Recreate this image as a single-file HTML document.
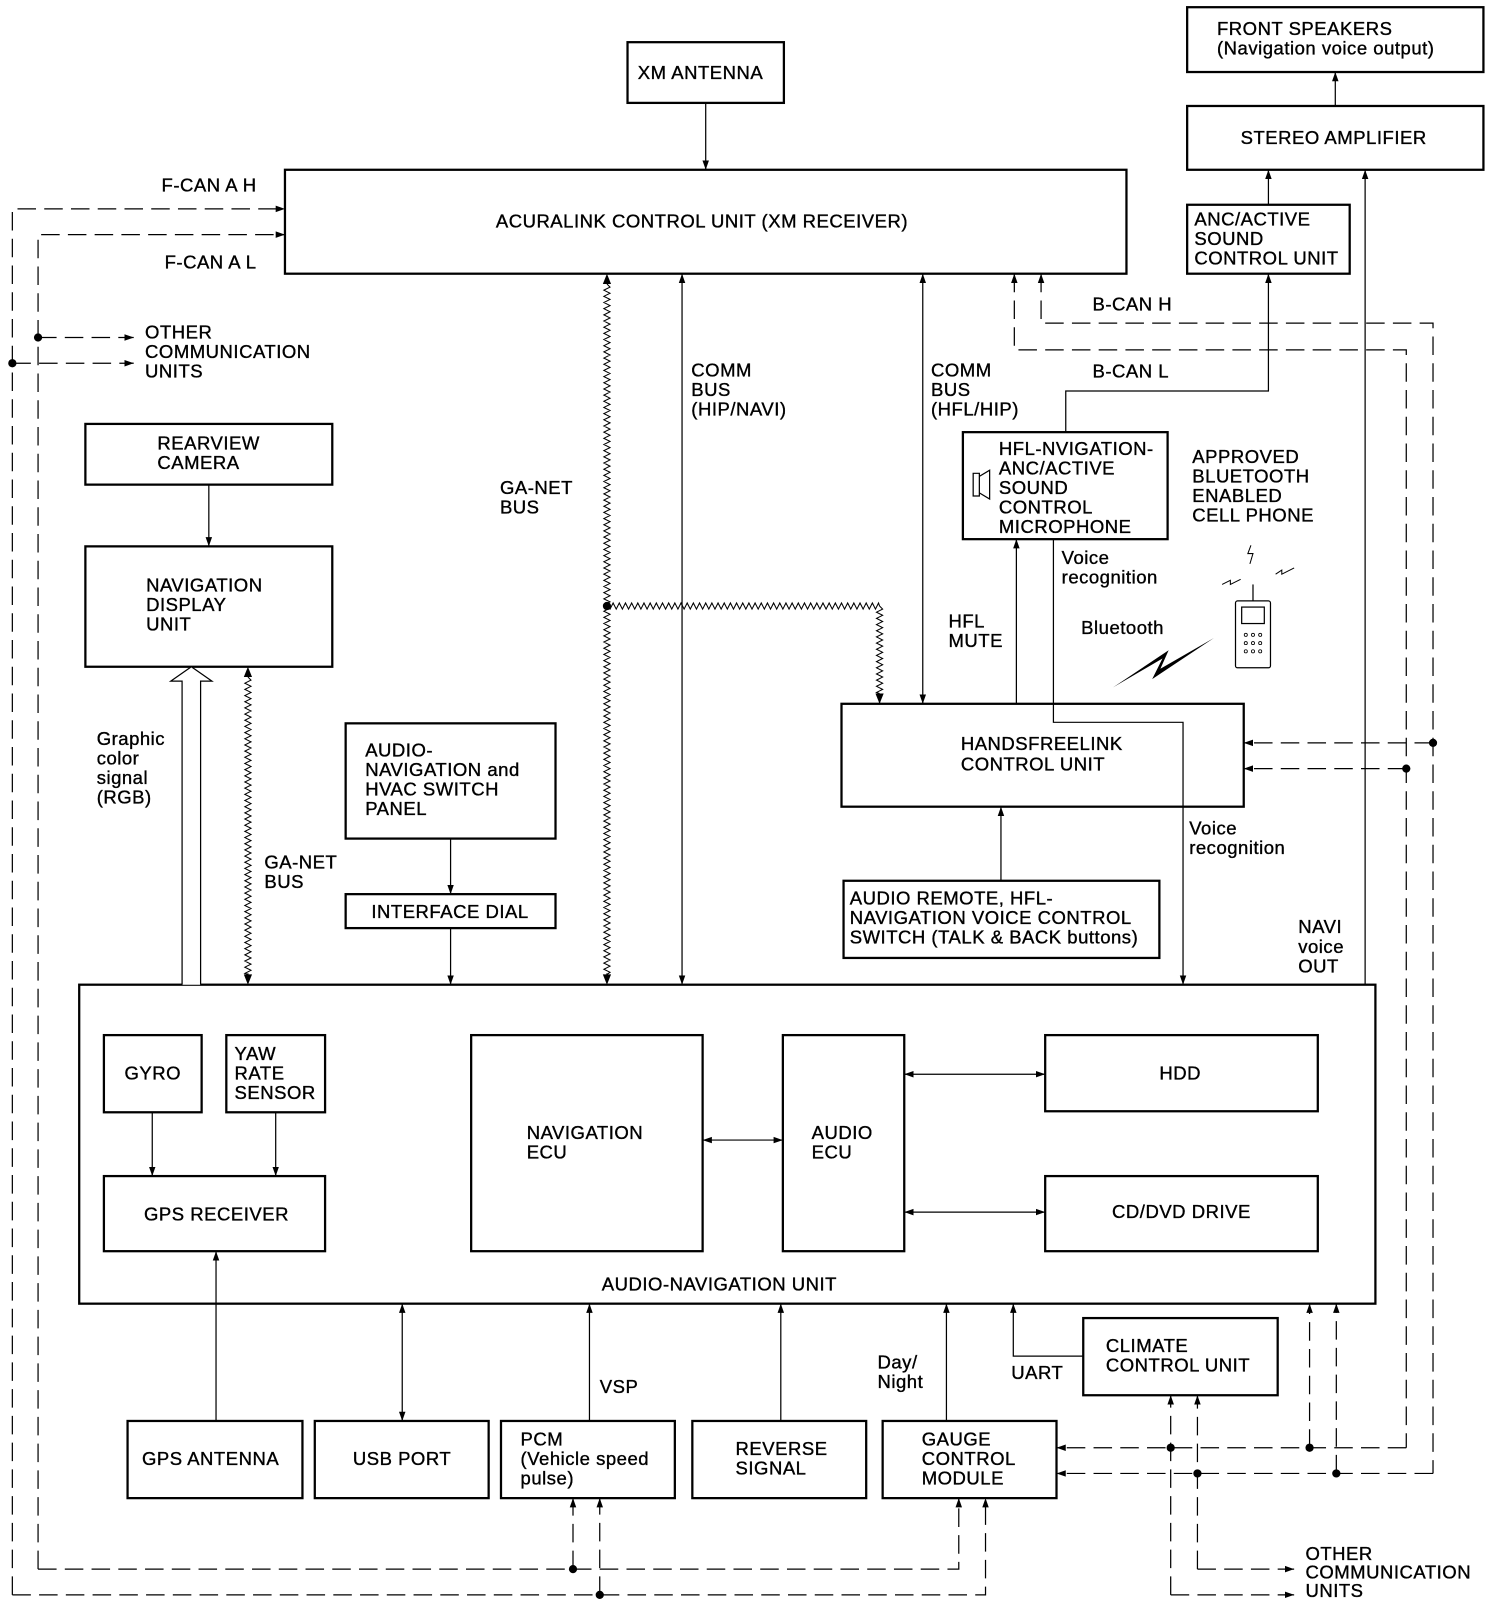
<!DOCTYPE html>
<html><head><meta charset="utf-8"><style>
html,body{margin:0;padding:0;background:#fff;}
svg{display:block;}
text{font-family:"Liberation Sans",sans-serif;font-size:18px;letter-spacing:0.5px;fill:#000;stroke:#000;stroke-width:0.35;}
.b{fill:none;stroke:#000;stroke-width:2.2;}
.l{fill:none;stroke:#000;stroke-width:1.2;}
.d{fill:none;stroke:#000;stroke-width:1.2;stroke-dasharray:18 8;}
.w{fill:none;stroke:#000;stroke-width:1;}
</style></head><body>
<svg id="s" width="1504" height="1600" viewBox="0 0 1462 1555" preserveAspectRatio="none" xmlns="http://www.w3.org/2000/svg">
<defs>
<marker id="a" viewBox="0 0 10 10" refX="10" refY="5" markerWidth="9" markerHeight="9" markerUnits="userSpaceOnUse" orient="auto-start-reverse"><path d="M0,1.5 L10,5 L0,8.5z"/></marker>
</defs>
<rect width="1462" height="1555" fill="#fff"/>
<rect class="b" x="610" y="41" width="152" height="59"/>
<rect class="b" x="277" y="165" width="818" height="101"/>
<rect class="b" x="1154" y="7" width="288" height="63"/>
<rect class="b" x="1154" y="103" width="288" height="62"/>
<rect class="b" x="1154" y="199" width="158" height="67"/>
<rect class="b" x="83" y="412" width="240" height="59"/>
<rect class="b" x="83" y="531" width="240" height="117"/>
<rect class="b" x="336" y="703" width="204" height="112"/>
<rect class="b" x="336" y="869" width="204" height="33"/>
<rect class="b" x="936" y="420" width="199" height="104"/>
<rect class="b" x="818" y="684" width="391" height="100"/>
<rect class="b" x="820" y="856" width="307" height="75"/>
<rect class="b" x="77" y="957" width="1260" height="310"/>
<rect class="b" x="101" y="1006" width="95" height="75"/>
<rect class="b" x="220" y="1006" width="96" height="75"/>
<rect class="b" x="101" y="1143" width="215" height="73"/>
<rect class="b" x="458" y="1006" width="225" height="210"/>
<rect class="b" x="761" y="1006" width="118" height="210"/>
<rect class="b" x="1016" y="1006" width="265" height="74"/>
<rect class="b" x="1016" y="1143" width="265" height="73"/>
<rect class="b" x="1053" y="1281" width="189" height="75"/>
<rect class="b" x="124" y="1381" width="170" height="75"/>
<rect class="b" x="306" y="1381" width="169" height="75"/>
<rect class="b" x="487" y="1381" width="169" height="75"/>
<rect class="b" x="673" y="1381" width="169" height="75"/>
<rect class="b" x="858" y="1381" width="169" height="75"/>
<path class="l" d="M686,100 V165" marker-end="url(#a)"/>
<path class="l" d="M1298,103 V70" marker-end="url(#a)"/>
<path class="l" d="M1233,199 V165" marker-end="url(#a)"/>
<path class="l" d="M1327,957 V165" marker-end="url(#a)"/>
<path class="l" d="M1036,420 V380 H1233 V266" marker-end="url(#a)"/>
<path class="l" d="M1024,524 V702 H1150 V957" marker-end="url(#a)"/>
<path class="l" d="M988,684 V524" marker-end="url(#a)"/>
<path class="l" d="M897,266 V684" marker-start="url(#a)" marker-end="url(#a)"/>
<path class="l" d="M663,266 V957" marker-start="url(#a)" marker-end="url(#a)"/>
<path class="l" d="M203,471 V531" marker-end="url(#a)"/>
<path class="l" d="M438,815 V869" marker-end="url(#a)"/>
<path class="l" d="M438,902 V957" marker-end="url(#a)"/>
<path class="l" d="M973,856 V784" marker-end="url(#a)"/>
<path class="l" d="M148,1081 V1143" marker-end="url(#a)"/>
<path class="l" d="M268,1081 V1143" marker-end="url(#a)"/>
<path class="l" d="M683,1108 H761" marker-start="url(#a)" marker-end="url(#a)"/>
<path class="l" d="M879,1044 H1016" marker-start="url(#a)" marker-end="url(#a)"/>
<path class="l" d="M879,1178 H1016" marker-start="url(#a)" marker-end="url(#a)"/>
<path class="l" d="M210,1381 V1216" marker-end="url(#a)"/>
<path class="l" d="M391,1267 V1381" marker-start="url(#a)" marker-end="url(#a)"/>
<path class="l" d="M573,1381 V1267" marker-end="url(#a)"/>
<path class="l" d="M759,1381 V1267" marker-end="url(#a)"/>
<path class="l" d="M920,1381 V1267" marker-end="url(#a)"/>
<path class="l" d="M1053,1318 H985 V1267" marker-end="url(#a)"/>
<path fill="#fff" stroke="#000" stroke-width="1.2" d="M177,957 V662 H166 L186,648 L206,662 H195 V957"/>
<path class="l" d="M590,272 V276 M590,951 V946 M241,654 V658 M241,951 V946 M855,684 V678" />
<path id="w1" class="w"/><path id="w2" class="w"/><path id="w3" class="w"/><path id="w4" class="w"/>
<path d="M590,266 l-4,10 h8z M590,957 l-4,-10 h8z M241,648 l-4,10 h8z M241,957 l-4,-10 h8z M855,684 l-4,-10 h8z"/>
<circle cx="590" cy="589" r="4"/>
<path class="d" d="M12,1550 V203 H277" marker-end="url(#a)"/>
<path class="d" d="M37,1525 V228 H277" marker-end="url(#a)"/>
<path class="d" d="M37,328 H130" marker-end="url(#a)"/>
<path class="d" d="M12,353 H130" marker-end="url(#a)"/>
<path class="d" d="M37,1525 H932 V1456" marker-end="url(#a)"/>
<path class="d" d="M12,1550 H958 V1456" marker-end="url(#a)"/>
<path class="d" d="M557,1525 V1456" marker-end="url(#a)"/>
<path class="d" d="M583,1550 V1456" marker-end="url(#a)"/>
<path class="d" d="M1012,266 V314 H1393 V1432" marker-start="url(#a)"/>
<path class="d" d="M986,266 V340 H1367 V1407" marker-start="url(#a)"/>
<path class="d" d="M1393,722 H1209" marker-end="url(#a)"/>
<path class="d" d="M1367,747 H1209" marker-end="url(#a)"/>
<path class="d" d="M1367,1407 H1027" marker-end="url(#a)"/>
<path class="d" d="M1393,1432 H1027" marker-end="url(#a)"/>
<path class="d" d="M1273,1407 V1267" marker-end="url(#a)"/>
<path class="d" d="M1299,1432 V1267" marker-end="url(#a)"/>
<path class="d" d="M1138,1550 V1356" marker-end="url(#a)"/>
<path class="d" d="M1164,1525 V1356" marker-end="url(#a)"/>
<path class="d" d="M1138,1550 H1258" marker-end="url(#a)"/>
<path class="d" d="M1164,1525 H1258" marker-end="url(#a)"/>
<g>
<circle cx="37" cy="328" r="4"/><circle cx="12" cy="353" r="4"/>
<circle cx="557" cy="1525" r="4"/><circle cx="583" cy="1550" r="4"/>
<circle cx="1393" cy="722" r="4"/><circle cx="1367" cy="747" r="4"/>
<circle cx="1138" cy="1407" r="4"/><circle cx="1273" cy="1407" r="4"/>
<circle cx="1164" cy="1432" r="4"/><circle cx="1299" cy="1432" r="4"/>
</g>
<path class="l" d="M946,460 h6 v22 h-6z M952,463 l10,-6 v28 l-10,-6"/>
<rect class="l" x="1201" y="584" width="34" height="65" rx="2"/>
<rect class="l" x="1207" y="590" width="22" height="16"/>
<g fill="none" stroke="#000" stroke-width="0.8">
<circle cx="1211" cy="617" r="1.5"/><circle cx="1218" cy="617" r="1.5"/><circle cx="1225" cy="617" r="1.5"/>
<circle cx="1211" cy="625" r="1.5"/><circle cx="1218" cy="625" r="1.5"/><circle cx="1225" cy="625" r="1.5"/>
<circle cx="1211" cy="633" r="1.5"/><circle cx="1218" cy="633" r="1.5"/><circle cx="1225" cy="633" r="1.5"/>
</g>
<path class="l" d="M1218,584 V568"/>
<path class="w" d="M1216,530 l-3,8 l5,0 l-3,10 M1188,568 l8,-4 l0,4 l10,-5 M1240,558 l6,-4 l0,4 l12,-6"/>
<path d="M1082,668 L1130,640 L1120,660 L1180,620 L1128,650 L1136,632z"/>
<text x="620" y="77">XM ANTENNA</text>
<text x="482" y="221">ACURALINK CONTROL UNIT (XM RECEIVER)</text>
<text x="1183" y="34">FRONT SPEAKERS</text>
<text x="1183" y="53">(Navigation voice output)</text>
<text x="1206" y="140">STEREO AMPLIFIER</text>
<text x="1161" y="219">ANC/ACTIVE</text><text x="1161" y="238">SOUND</text><text x="1161" y="257">CONTROL UNIT</text>
<text x="157" y="186">F-CAN A H</text>
<text x="160" y="261">F-CAN A L</text>
<text x="141" y="329">OTHER</text><text x="141" y="348">COMMUNICATION</text><text x="141" y="367">UNITS</text>
<text x="1062" y="302">B-CAN H</text>
<text x="1062" y="367">B-CAN L</text>
<text x="672" y="366">COMM</text><text x="672" y="385">BUS</text><text x="672" y="404">(HIP/NAVI)</text>
<text x="905" y="366">COMM</text><text x="905" y="385">BUS</text><text x="905" y="404">(HFL/HIP)</text>
<text x="153" y="437">REARVIEW</text><text x="153" y="456">CAMERA</text>
<text x="142" y="575">NAVIGATION</text><text x="142" y="594">DISPLAY</text><text x="142" y="613">UNIT</text>
<text x="486" y="480">GA-NET</text><text x="486" y="499">BUS</text>
<text x="971" y="442">HFL-NVIGATION-</text><text x="971" y="461">ANC/ACTIVE</text><text x="971" y="480">SOUND</text><text x="971" y="499">CONTROL</text><text x="971" y="518">MICROPHONE</text>
<text x="1159" y="450">APPROVED</text><text x="1159" y="469">BLUETOOTH</text><text x="1159" y="488">ENABLED</text><text x="1159" y="507">CELL PHONE</text>
<text x="1032" y="548">Voice</text><text x="1032" y="567">recognition</text>
<text x="922" y="610">HFL</text><text x="922" y="629">MUTE</text>
<text x="1051" y="616">Bluetooth</text>
<text x="94" y="724">Graphic</text><text x="94" y="743">color</text><text x="94" y="762">signal</text><text x="94" y="781">(RGB)</text>
<text x="355" y="735">AUDIO-</text><text x="355" y="754">NAVIGATION and</text><text x="355" y="773">HVAC SWITCH</text><text x="355" y="792">PANEL</text>
<text x="257" y="844">GA-NET</text><text x="257" y="863">BUS</text>
<text x="361" y="892">INTERFACE DIAL</text>
<text x="934" y="729">HANDSFREELINK</text><text x="934" y="749">CONTROL UNIT</text>
<text x="1156" y="811">Voice</text><text x="1156" y="830">recognition</text>
<text x="826" y="879">AUDIO REMOTE, HFL-</text><text x="826" y="898">NAVIGATION VOICE CONTROL</text><text x="826" y="917">SWITCH (TALK &amp; BACK buttons)</text>
<text x="1262" y="907">NAVI</text><text x="1262" y="926">voice</text><text x="1262" y="945">OUT</text>
<text x="121" y="1049">GYRO</text>
<text x="228" y="1030">YAW</text><text x="228" y="1049">RATE</text><text x="228" y="1068">SENSOR</text>
<text x="140" y="1186">GPS RECEIVER</text>
<text x="512" y="1107">NAVIGATION</text><text x="512" y="1126">ECU</text>
<text x="789" y="1107">AUDIO</text><text x="789" y="1126">ECU</text>
<text x="1127" y="1049">HDD</text>
<text x="1081" y="1184">CD/DVD DRIVE</text>
<text x="585" y="1254">AUDIO-NAVIGATION UNIT</text>
<text x="583" y="1354">VSP</text>
<text x="853" y="1330">Day/</text><text x="853" y="1349">Night</text>
<text x="983" y="1340">UART</text>
<text x="1075" y="1314">CLIMATE</text><text x="1075" y="1333">CONTROL UNIT</text>
<text x="138" y="1424">GPS ANTENNA</text>
<text x="343" y="1424">USB PORT</text>
<text x="506" y="1405">PCM</text><text x="506" y="1424">(Vehicle speed</text><text x="506" y="1443">pulse)</text>
<text x="715" y="1414">REVERSE</text><text x="715" y="1433">SIGNAL</text>
<text x="896" y="1405">GAUGE</text><text x="896" y="1424">CONTROL</text><text x="896" y="1443">MODULE</text>
<text x="1269" y="1516">OTHER</text><text x="1269" y="1534">COMMUNICATION</text><text x="1269" y="1552">UNITS</text>
</svg>
<script>
function zz(x1,y1,x2,y2){var d="M"+x1+","+y1,vert=x1==x2,len=vert?Math.abs(y2-y1):Math.abs(x2-x1),s=(vert?(y2>y1):(x2>x1))?1:-1,i,k=0;
for(i=3;i<=len;i+=3){k++;var o=(k%2?3:-3);d+=vert?" L"+(x1+o)+","+(y1+s*i):" L"+(x1+s*i)+","+(y1+o);}
d+=" L"+x2+","+y2;return d;}
document.getElementById("w1").setAttribute("d",zz(590,276,590,947));
document.getElementById("w2").setAttribute("d",zz(590,589,855,589));
document.getElementById("w3").setAttribute("d",zz(855,589,855,674));
document.getElementById("w4").setAttribute("d",zz(241,658,241,947));
</script>
</body></html>
